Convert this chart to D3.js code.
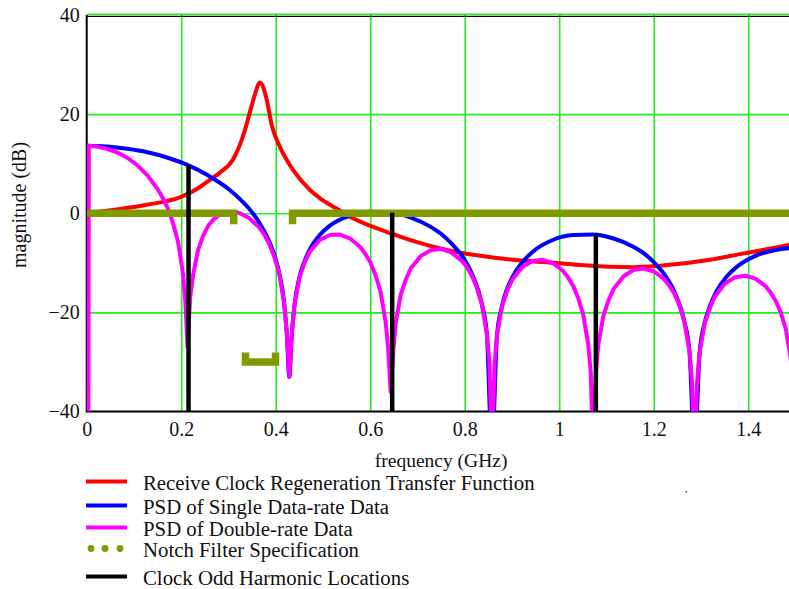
<!DOCTYPE html>
<html><head><meta charset="utf-8">
<script src="https://cdn.jsdelivr.net/npm/d3@7"></script>
<style>
html,body{margin:0;padding:0;background:#fff;}
svg{display:block;}
text{font-family:"Liberation Serif","Times New Roman",serif;fill:#111;}
</style></head><body>
<svg id="chart" width="789" height="589"></svg>
<script>
// ---------------- data ----------------
const freqTicks = [0, 0.2, 0.4, 0.6, 0.8, 1, 1.2, 1.4];
const magTicks = [40, 20, 0, -20, -40];
const freqGrid = [0.2, 0.4, 0.6, 0.8, 1, 1.2, 1.4];
const magGrid = [40, 20, 0, -20];

// Receive Clock Regeneration Transfer Function [GHz, dB]
const clockRegen = [
  [0,0],[0.067,0.8],[0.127,1.7],[0.2,3.3],[0.24,5.3],[0.26,6.7],[0.282,8.2],[0.31,10.9],
  [0.331,15.6],[0.346,20.6],[0.356,24.0],[0.3668,26.4],[0.381,22.9],[0.3915,17.8],[0.409,13.4],
  [0.437,8.7],[0.4726,4.7],[0.494,3.0],[0.535,0.6],[0.55,-0.3],[0.642,-4.0],[0.762,-7.4],
  [0.903,-9.4],[1.0,-10.1],[1.044,-10.45],[1.1075,-10.8],[1.16,-10.9],[1.2134,-10.6],
  [1.319,-9.4],[1.39,-8.1],[1.486,-6.4],[1.5,-6.1]
];

// PSD of Single Data-rate Data [GHz, dB]
const psdSingle = [
  [0,13.6],[0.0429,13.45],[0.0858,13.0],[0.1286,12.3],[0.1715,11.2],[0.2144,9.7],[0.2573,7.6],
  [0.3002,4.9],[0.3216,3.1],[0.343,1.0],[0.3645,-1.8],[0.3859,-5.6],[0.3966,-8.3],[0.4074,-12.0],
  [0.418,-18.2],[0.4235,-24.4],[0.4288,-33],[0.434,-24.5],[0.4395,-18.7],[0.4502,-12.9],
  [0.461,-9.7],[0.4717,-7.4],[0.4931,-4.4],[0.5146,-2.5],[0.5574,-0.46],[0.6003,0.3],
  [0.6432,0.14],[0.6861,-0.86],[0.729,-2.8],[0.7504,-4.2],[0.7718,-6.1],[0.7933,-8.5],
  [0.8147,-12.1],[0.8362,-18.3],[0.8469,-24.4],[0.8576,-48],[0.8683,-24.6],[0.879,-18.7],
  [0.9005,-13.0],[0.9219,-9.9],[0.9434,-7.8],[0.9862,-5.4],[1.0291,-4.4],[1.072,-4.3],
  [1.1149,-5.1],[1.1578,-6.8],[1.1792,-8.1],[1.2006,-9.9],[1.2221,-12.3],[1.2435,-15.8],
  [1.265,-21.9],[1.2757,-27.9],[1.2864,-48],[1.2971,-28.1],[1.3078,-22.1],[1.3186,-18.8],
  [1.3293,-16.4],[1.3507,-13.2],[1.3722,-11.1],[1.415,-8.6],[1.4579,-7.4],[1.5,-7.0]
];

// PSD of Double-rate Data [GHz, dB]
const psdDouble = [
  [0.0035,-45],[0.0045,13.6],[0.021,13.45],[0.043,13.0],[0.064,12.3],[0.086,11.2],[0.107,9.7],
  [0.129,7.6],[0.150,4.9],[0.161,3.1],[0.1715,1.0],[0.182,-1.8],[0.193,-5.6],[0.2035,-12.0],
  [0.2085,-17.5],[0.2135,-27],
  [0.219,-17.0],[0.225,-12.5],[0.2358,-7.4],[0.2465,-4.5],[0.2573,-2.5],[0.268,-1.3],
  [0.2787,-0.5],[0.300,0.3],[0.3216,0.1],[0.343,-0.9],[0.3645,-2.8],[0.3752,-4.2],
  [0.3859,-6.1],[0.3966,-8.7],[0.4074,-12.1],[0.418,-18.3],[0.4235,-24],[0.4288,-33],
  [0.434,-24.5],[0.4395,-18.7],[0.4502,-13.0],[0.461,-10.0],[0.4717,-7.8],[0.4931,-5.4],
  [0.5146,-4.4],[0.536,-4.3],[0.5574,-5.1],[0.5789,-6.8],[0.5896,-8.2],[0.6003,-9.9],
  [0.611,-12.4],[0.6218,-15.8],[0.6325,-21.9],[0.6378,-27],[0.6432,-36],
  [0.6485,-28],[0.654,-22.1],[0.6646,-16.4],[0.6753,-13.4],[0.686,-11.1],[0.7075,-8.6],
  [0.729,-7.4],[0.7504,-7.2],[0.7718,-7.9],[0.7933,-9.55],[0.804,-10.8],[0.8147,-12.55],
  [0.8255,-15.0],[0.8362,-18.4],[0.8469,-24.4],[0.8523,-30],[0.8576,-48],
  [0.863,-30.5],[0.8683,-24.6],[0.879,-18.8],[0.8898,-15.6],[0.9005,-13.4],[0.9219,-10.85],
  [0.9434,-9.65],[0.9648,-9.4],[0.9862,-10.0],[1.0077,-11.6],[1.0184,-12.9],[1.0291,-14.6],
  [1.0398,-17.0],[1.0506,-20.4],[1.0613,-26.4],[1.0666,-32],[1.072,-50],
  [1.0774,-32.5],[1.0827,-26.5],[1.0934,-20.7],[1.1042,-17.6],[1.1149,-15.3],[1.1363,-12.7],
  [1.1578,-11.4],[1.1792,-11.15],[1.2006,-11.75],[1.2221,-13.3],[1.2328,-14.6],[1.2435,-16.2],
  [1.2543,-18.6],[1.265,-22],[1.2757,-27.9],[1.281,-34],[1.2864,-50],
  [1.2918,-34],[1.2971,-28.1],[1.3078,-22.25],[1.3186,-19.2],[1.3293,-16.8],[1.3507,-14.2],
  [1.3722,-12.9],[1.3936,-12.6],[1.415,-13.2],[1.4365,-14.7],[1.4472,-16.0],[1.4579,-17.6],
  [1.4687,-20.0],[1.4794,-23.3],[1.49,-29.3],[1.5,-50]
];

// Notch Filter Specification, drawn as three pieces [GHz, dB]
const notchPassLow = [[0,0],[0.311,0],[0.311,-2.2]];
const notchStop = [[0.336,-28.1],[0.336,-30],[0.3996,-30],[0.3996,-28.1]];
const notchPassHigh = [[0.4356,-2.2],[0.4356,0],[1.5,0]];

// Clock Odd Harmonic Locations
const harmonicFreq = [0.2155, 0.6465, 1.0775];
const harmonicTop = [9.7, 0.1, -4.3];

const legendLabels = [
  "Receive Clock Regeneration Transfer Function",
  "PSD of Single Data-rate Data",
  "PSD of Double-rate Data",
  "Notch Filter Specification",
  "Clock Odd Harmonic Locations"
];
const legendColors = ["#ff0000", "#0000ff", "#ff00ff", "#809a00", "#000000"];

// ---------------- drawing ----------------
const svg = d3.select("#chart");
const W = 789;
const x = d3.scaleLinear().domain([0, 1.5]).range([86.7, 795.5]);
const y = d3.scaleLinear().domain([-40, 40]).range([411.5, 15]);
const gridColor = "#1ef01e";

// vertical grid
svg.append("g")
  .attr("transform", `translate(0,${y(-40)})`)
  .call(d3.axisBottom(x).tickValues(freqGrid).tickSize(-(y(-40) - y(40))).tickFormat(""))
  .call(g => g.select(".domain").remove())
  .call(g => g.selectAll("line").attr("stroke", gridColor).attr("stroke-width", 1.6));

// horizontal grid
svg.append("g")
  .attr("transform", `translate(${x(0)},0)`)
  .call(d3.axisLeft(y).tickValues(magGrid).tickSize(-(W - x(0))).tickFormat(""))
  .call(g => g.select(".domain").remove())
  .call(g => g.selectAll("line").attr("stroke", gridColor).attr("stroke-width", 1.6))
  .call(g => g.selectAll(".tick").filter(d => d === 40).attr("transform", `translate(0,${y(40) - 0.8})`));

// frame
svg.append("line").attr("x1", x(0)).attr("x2", W).attr("y1", y(40) + 1.4).attr("y2", y(40) + 1.4)
  .attr("stroke", "#000").attr("stroke-width", 1.2);
svg.append("line").attr("x1", x(0)).attr("x2", W).attr("y1", y(-40)).attr("y2", y(-40))
  .attr("stroke", "#000").attr("stroke-width", 2);
svg.append("line").attr("x1", x(0)).attr("x2", x(0)).attr("y1", y(40)).attr("y2", y(-40) + 1)
  .attr("stroke", "#000").attr("stroke-width", 2);

// clip
svg.append("defs").append("clipPath").attr("id", "plotclip")
  .append("rect").attr("x", x(0)).attr("y", y(40)).attr("width", x(1.5) - x(0)).attr("height", y(-40) - y(40));
const plot = svg.append("g").attr("clip-path", "url(#plotclip)");

const smooth = d3.line().x(d => x(d[0])).y(d => y(d[1])).curve(d3.curveMonotoneX);
const straight = d3.line().x(d => x(d[0])).y(d => y(d[1]));

plot.append("path").attr("d", smooth(clockRegen)).attr("fill", "none")
  .attr("stroke", legendColors[0]).attr("stroke-width", 4).attr("stroke-linejoin", "round");
plot.append("path").attr("d", smooth(psdSingle)).attr("fill", "none")
  .attr("stroke", legendColors[1]).attr("stroke-width", 4).attr("stroke-linejoin", "round");
plot.append("path").attr("d", straight(psdDouble)).attr("fill", "none")
  .attr("stroke", legendColors[2]).attr("stroke-width", 4).attr("stroke-linejoin", "round");

[notchPassLow, notchStop, notchPassHigh].forEach(seg => {
  plot.append("path").attr("d", straight(seg)).attr("fill", "none")
    .attr("stroke", legendColors[3]).attr("stroke-width", 7.5)
    .attr("stroke-linejoin", "miter").attr("stroke-linecap", "butt");
});

plot.selectAll(".harm").data(harmonicFreq).join("line")
  .attr("class", "harm")
  .attr("x1", d => x(d)).attr("x2", d => x(d))
  .attr("y1", y(-40)).attr("y2", (d, i) => y(harmonicTop[i]))
  .attr("stroke", legendColors[4]).attr("stroke-width", 4.5);

// axes labels
const fmtY = v => v < 0 ? "\u2212" + Math.abs(v) : String(v);
svg.append("g")
  .attr("transform", `translate(0,${y(-40)})`)
  .call(d3.axisBottom(x).tickValues(freqTicks).tickSize(0).tickPadding(10).tickFormat(d3.format("~g")))
  .call(g => g.select(".domain").remove())
  .call(g => g.selectAll("text").attr("font-size", 20).attr("font-family", "Liberation Serif").attr("fill", "#111"));

svg.append("g")
  .attr("transform", `translate(${x(0)},0)`)
  .call(d3.axisLeft(y).tickValues(magTicks).tickSize(0).tickPadding(7).tickFormat(fmtY))
  .call(g => g.select(".domain").remove())
  .call(g => g.selectAll("text").attr("font-size", 20).attr("font-family", "Liberation Serif").attr("fill", "#111"));

svg.append("text").attr("x", (x(0) + x(1.5)) / 2).attr("y", 467)
  .attr("text-anchor", "middle").attr("font-size", 19.5).text("frequency (GHz)");
svg.append("text").attr("transform", "translate(26,205) rotate(-90)")
  .attr("text-anchor", "middle").attr("font-size", 20).text("magnitude (dB)");

// stray mark visible in the reference
svg.append("rect").attr("x", 685.5).attr("y", 491).attr("width", 1.6).attr("height", 1.6).attr("fill", "#555");

// legend
const legendBase = [490, 514, 536, 557, 585];
const lg = svg.append("g");
legendLabels.forEach((lab, i) => {
  const ly = legendBase[i] - 8.5;
  if (i === 3) {
    [91, 105, 120].forEach(cx => lg.append("circle").attr("cx", cx).attr("cy", ly).attr("r", 3.4).attr("fill", legendColors[i]));
  } else {
    lg.append("line").attr("x1", 86).attr("x2", 127).attr("y1", ly).attr("y2", ly)
      .attr("stroke", legendColors[i]).attr("stroke-width", 4);
  }
  lg.append("text").attr("x", 143).attr("y", legendBase[i]).attr("font-size", 20.8).text(lab);
});
</script>
</body></html>
